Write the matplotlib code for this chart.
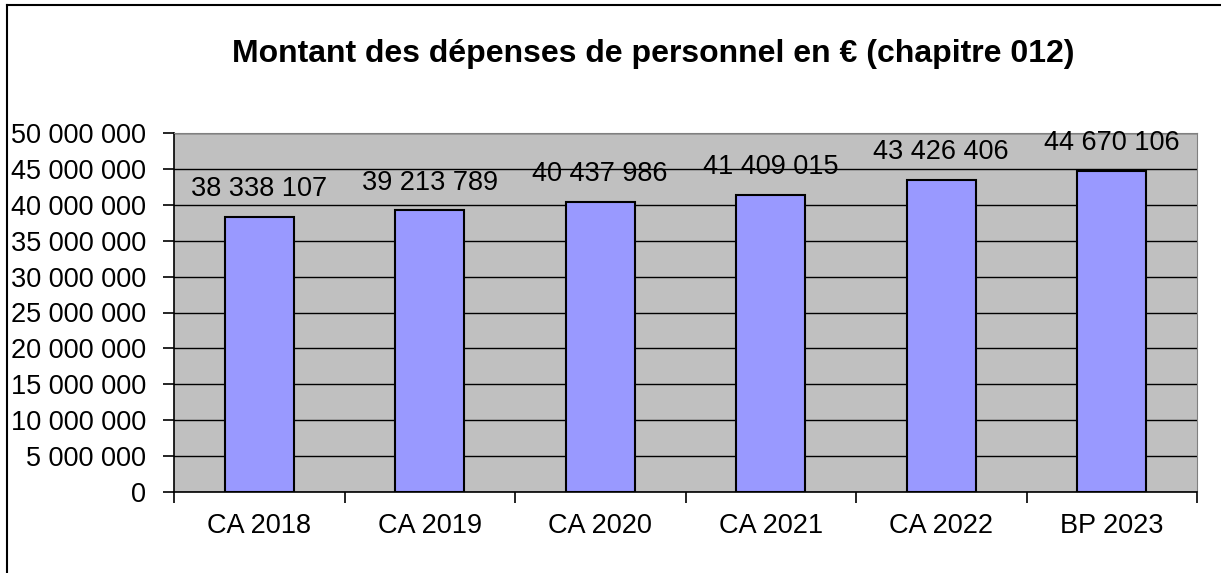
import numpy as np
import matplotlib.pyplot as plt
from matplotlib.ticker import FuncFormatter, FixedLocator

plt.rcParams['font.family'] = ['Liberation Sans', 'DejaVu Sans']

# Données
categories = ['CA 2018', 'CA 2019', 'CA 2020', 'CA 2021', 'CA 2022', 'BP 2023']
montants = [38338107, 39213789, 40437986, 41409015, 43426406, 44670106]


def fmt_espace(v, pos=None):
    return f'{int(round(v)):,}'.replace(',', ' ')


fig = plt.figure(figsize=(12.21, 5.73), dpi=100)
ax = fig.add_axes([174 / 1221, 81 / 573, 1023 / 1221, 359 / 573])
ax.set_facecolor('#C0C0C0')

x = np.arange(len(categories))
bars = ax.bar(x, montants, width=0.405, color='#9999FF', edgecolor='black',
              linewidth=1.5, zorder=3)

# Étiquettes de valeurs
for xi, v in zip(x, montants):
    ax.annotate(fmt_espace(v), (xi, v), xytext=(0, 20), textcoords='offset points',
                ha='center', va='center', fontsize=19.5, zorder=4)

# Axes
ax.set_xlim(-0.5, len(categories) - 0.5)
ax.set_ylim(0, 50000000)
ax.set_yticks(np.arange(0, 50000001, 5000000))
ax.yaxis.set_major_formatter(FuncFormatter(fmt_espace))
ax.yaxis.grid(True, color='black', linewidth=1.0, zorder=1)
ax.set_axisbelow(True)

ax.set_xticks(x)
ax.set_xticklabels(categories)
ax.xaxis.set_minor_locator(FixedLocator(np.arange(-0.5, len(categories), 1.0)))
ax.tick_params(axis='x', which='major', length=0, pad=15, labelsize=19.5)
ax.tick_params(axis='x', which='minor', length=8, width=1.2, direction='out')
ax.tick_params(axis='y', length=8, width=1.2, direction='out', pad=12, labelsize=19.5)

ax.spines['left'].set_linewidth(1.2)
ax.spines['bottom'].set_linewidth(1.2)
ax.spines['top'].set_color('#808080')
ax.spines['right'].set_color('#808080')

# Titre
fig.text(653 / 1221, 1 - 54 / 573, 'Montant des dépenses de personnel en € (chapitre 012)',
         ha='center', va='center', fontsize=23, fontweight='bold')

# Cadre extérieur (gauche et haut)
fig.add_artist(plt.Line2D([7 / 1221, 7 / 1221], [0, 1 - 5 / 573], color='black', lw=1.5))
fig.add_artist(plt.Line2D([7 / 1221, 1], [1 - 5 / 573, 1 - 5 / 573], color='black', lw=1.5))

fig.savefig('out.png', dpi=100)
